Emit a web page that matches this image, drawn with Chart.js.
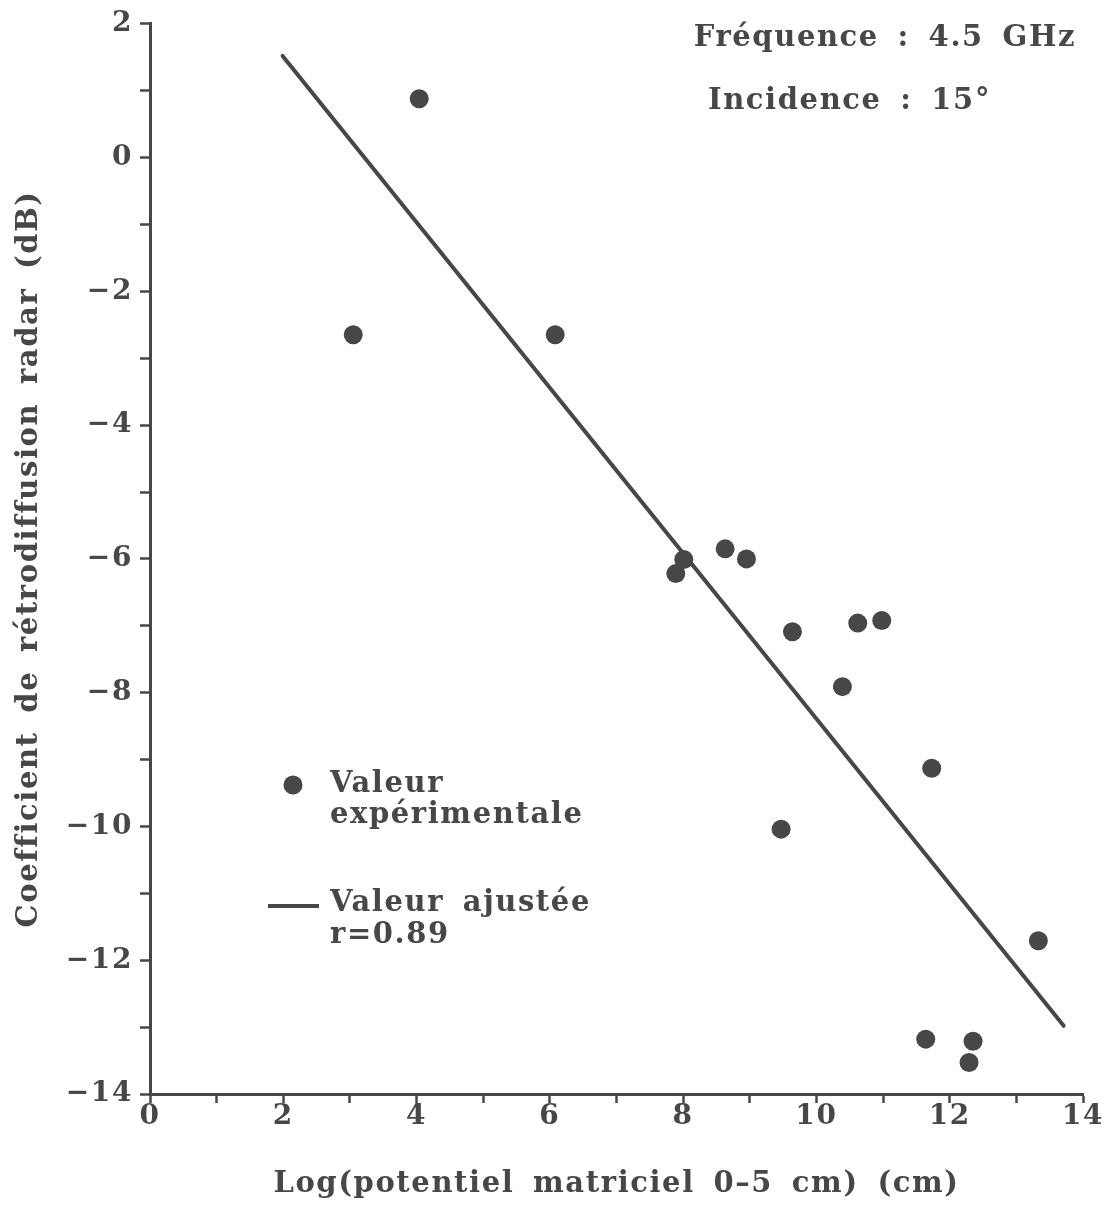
<!DOCTYPE html>
<html><head><meta charset="utf-8">
<script src="https://cdn.jsdelivr.net/npm/chart.js@4/dist/chart.umd.min.js"></script>
<style>html,body{margin:0;padding:0;background:#fff}#wrap{width:1108px;height:1207px;position:relative}canvas{display:block}</style>
</head><body><div id="wrap"><canvas id="c" width="1108" height="1207"></canvas></div>
<script>
// Experimental values
const expX = [3.05, 4.04, 6.08, 7.89, 8.01, 8.63, 8.95, 9.64, 9.47, 10.39, 10.62, 10.98, 11.73, 11.64, 12.35, 12.29, 13.33];
const expY = [-2.65, 0.88, -2.65, -6.22, -6.01, -5.85, -6.00, -7.09, -10.04, -7.91, -6.96, -6.92, -9.13, -13.18, -13.21, -13.53, -11.71];
// Fitted line end points
const fitX = [1.99, 13.71];
const fitY = [1.52, -12.98];
// Axis ranges / ticks
const xRange = [0, 14];
const yRange = [-14, 2];
const xTitle = 'Log(potentiel matriciel 0\u20135 cm) (cm)';
const yTitle = 'Coefficient de r\u00e9trodiffusion radar (dB)';
const infoLines = ['Fr\u00e9quence : 4.5 GHz', 'Incidence : 15\u00b0'];
const legendExp = ['Valeur', 'exp\u00e9rimentale'];
const legendFit = ['Valeur ajust\u00e9e', 'r=0.89'];

const INK = '#474747';
const FONT = '"DejaVu Serif", "Liberation Serif", serif';
const TXT = 29;

const expData = expX.map((x, i) => ({x, y: expY[i]}));
const fitData = fitX.map((x, i) => ({x, y: fitY[i]}));

const fmt = v => (v < 0 ? '\u2212' + Math.abs(v) : String(v));

const spacingPlugin = {
  id: 'spacing',
  beforeDraw(chart) {
    chart.ctx.letterSpacing = '1.6px';
    chart.ctx.wordSpacing = '7px';
  }
};

const textPlugin = {
  id: 'texts',
  afterDraw(chart) {
    const ctx = chart.ctx;
    ctx.save();
    ctx.letterSpacing = '1.6px';
    ctx.wordSpacing = '7px';
    ctx.fillStyle = INK;
    ctx.strokeStyle = INK;
    ctx.font = 'bold ' + TXT + 'px ' + FONT;
    ctx.textBaseline = 'middle';
    // top-right info
    ctx.textAlign = 'right';
    ctx.fillText(infoLines[0], 1076, 38);
    ctx.textAlign = 'left';
    ctx.fillText(infoLines[1], 708, 101);
    // legend
    ctx.beginPath();
    ctx.arc(293, 785, 9.5, 0, Math.PI * 2);
    ctx.fill();
    ctx.fillText(legendExp[0], 330, 784);
    ctx.fillText(legendExp[1], 330, 815);
    ctx.lineWidth = 4;
    ctx.beginPath();
    ctx.moveTo(268, 906);
    ctx.lineTo(319, 906);
    ctx.stroke();
    ctx.fillText(legendFit[0], 330, 903);
    ctx.fillText(legendFit[1], 330, 935);
    ctx.restore();
  }
};

new Chart(document.getElementById('c'), {
  type: 'scatter',
  data: {
    datasets: [
      {
        label: 'Valeur ajustée',
        type: 'line',
        data: fitData,
        borderColor: INK,
        borderWidth: 4,
        borderCapStyle: 'round',
        pointRadius: 0,
        fill: false,
        tension: 0
      },
      {
        label: 'Valeur expérimentale',
        data: expData,
        backgroundColor: INK,
        borderWidth: 0,
        pointRadius: 9.5,
        pointHoverRadius: 9.5
      }
    ]
  },
  options: {
    responsive: false,
    animation: false,
    devicePixelRatio: 1,
    layout: { padding: { top: 23, right: 25, left: 0, bottom: 0 } },
    plugins: { legend: { display: false }, tooltip: { enabled: false } },
    scales: {
      x: {
        type: 'linear',
        min: xRange[0], max: xRange[1],
        afterFit: s => { s.height = 113; },
        border: { display: true, color: INK, width: 3 },
        grid: { display: true, drawOnChartArea: false, drawTicks: true, tickLength: 9, tickColor: INK, tickWidth: 2.5 },
        ticks: {
          stepSize: 1, autoSkip: false, maxRotation: 0, padding: -3,
          color: INK, font: { family: FONT, size: 28, weight: 'bold' },
          callback: v => (v % 2 === 0 ? fmt(v) : '')
        },
        title: { display: true, text: xTitle, color: INK, font: { family: FONT, size: TXT, weight: 'bold' }, padding: { top: 0, bottom: 5 } }
      },
      y: {
        type: 'linear',
        min: yRange[0], max: yRange[1],
        afterFit: s => { s.width = 150; },
        border: { display: true, color: INK, width: 3 },
        grid: { display: true, drawOnChartArea: false, drawTicks: true, tickLength: 10, tickColor: INK, tickWidth: 2.5 },
        ticks: {
          stepSize: 1, autoSkip: false, padding: 7,
          color: INK, font: { family: FONT, size: 28, weight: 'bold' },
          callback: v => (v % 2 === 0 ? fmt(v) : '')
        },
        title: { display: true, text: yTitle, color: INK, font: { family: FONT, size: TXT, weight: 'bold' }, padding: { top: 12, bottom: 0 } }
      }
    }
  },
  plugins: [spacingPlugin, textPlugin]
});
</script>
</body></html>
